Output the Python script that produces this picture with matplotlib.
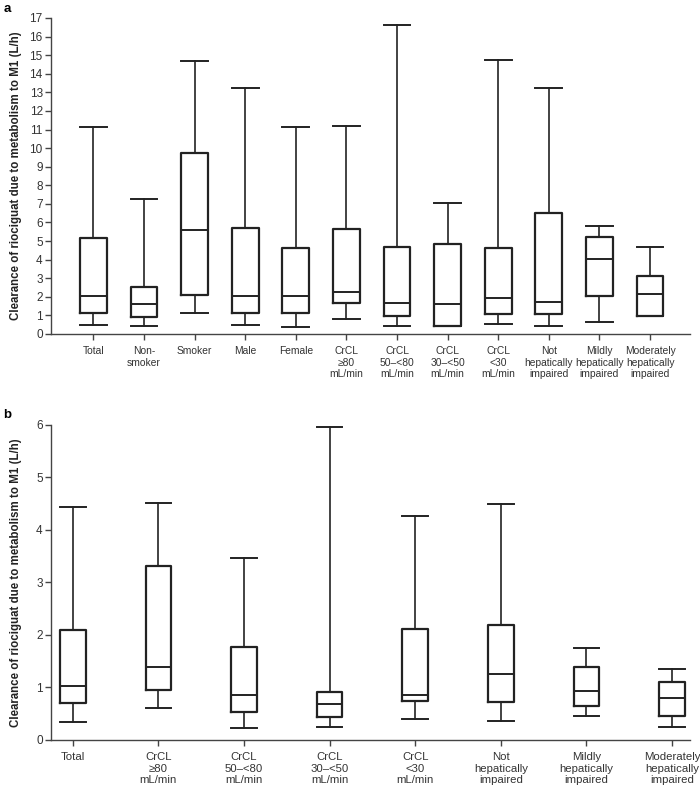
import matplotlib.pyplot as plt

plt.rcParams['font.family'] = ['Liberation Sans', 'DejaVu Sans']

# panel a: groups and five-number summaries (low whisker, Q1, median, Q3, high whisker)
labels_a = ['Total', 'Non-\nsmoker', 'Smoker', 'Male', 'Female', 'CrCL\n≥80\nmL/min',
            'CrCL\n50–<80\nmL/min', 'CrCL\n30–<50\nmL/min', 'CrCL\n<30\nmL/min',
            'Not\nhepatically\nimpaired', 'Mildly\nhepatically\nimpaired',
            'Moderately\nhepatically\nimpaired']
low_a = [0.50, 0.45, 1.15, 0.50, 0.40, 0.79, 0.41, 0.42, 0.55, 0.41, 0.63, 0.95]
q1_a = [1.11, 0.93, 2.10, 1.11, 1.11, 1.65, 0.98, 0.45, 1.09, 1.06, 2.03, 0.98]
med_a = [2.04, 1.63, 5.59, 2.04, 2.04, 2.26, 1.67, 1.63, 1.94, 1.74, 4.03, 2.15]
q3_a = [5.18, 2.55, 9.75, 5.70, 4.63, 5.63, 4.66, 4.86, 4.64, 6.51, 5.20, 3.14]
high_a = [11.15, 7.28, 14.69, 13.23, 11.15, 11.20, 16.62, 7.03, 14.72, 13.23, 5.81, 4.70]

# panel b
labels_b = ['Total', 'CrCL\n≥80\nmL/min', 'CrCL\n50–<80\nmL/min', 'CrCL\n30–<50\nmL/min',
            'CrCL\n<30\nmL/min', 'Not\nhepatically\nimpaired', 'Mildly\nhepatically\nimpaired',
            'Moderately\nhepatically\nimpaired']
low_b = [0.34, 0.60, 0.22, 0.24, 0.39, 0.36, 0.46, 0.24]
q1_b = [0.70, 0.96, 0.54, 0.43, 0.75, 0.73, 0.65, 0.46]
med_b = [1.02, 1.39, 0.86, 0.68, 0.86, 1.26, 0.93, 0.79]
q3_b = [2.09, 3.31, 1.78, 0.92, 2.11, 2.19, 1.39, 1.11]
high_b = [4.43, 4.51, 3.46, 5.96, 4.27, 4.50, 1.76, 1.36]

ylabel = 'Clearance of riociguat due to metabolism to M1 (L/h)'


def draw_boxes(ax, labels, low, q1, med, q3, high, width, xsize):
    stats = []
    for i in range(len(labels)):
        stats.append({'whislo': low[i], 'q1': q1[i], 'med': med[i], 'q3': q3[i],
                      'whishi': high[i], 'fliers': []})
    pos = list(range(1, len(labels) + 1))
    ax.bxp(stats, positions=pos, widths=width, showfliers=False, capwidths=width,
           boxprops=dict(color='#222222', linewidth=1.6),
           medianprops=dict(color='#222222', linewidth=1.4),
           whiskerprops=dict(color='#222222', linewidth=1.2),
           capprops=dict(color='#222222', linewidth=1.4))
    ax.set_xticks(pos)
    ax.set_xticklabels(labels, fontsize=xsize, color='#333333', linespacing=1.13)
    for s in ['top', 'right']:
        ax.spines[s].set_visible(False)
    for s in ['left', 'bottom']:
        ax.spines[s].set_color('#444444')
        ax.spines[s].set_linewidth(1.0)
    ax.tick_params(axis='both', colors='#444444', length=4, width=1.0, labelsize=8.5,
                   labelcolor='#333333', pad=2)
    ax.tick_params(axis='x', labelsize=xsize, pad=5)
    ax.set_ylabel(ylabel, fontsize=8.3, fontweight='bold', color='#222222')
    ax.yaxis.set_label_coords(-0.045, 0.5)


fig = plt.figure(figsize=(7, 7.92), dpi=100)

ax1 = fig.add_axes([0.0729, 0.5783, 0.9129, 0.399])
draw_boxes(ax1, labels_a, low_a, q1_a, med_a, q3_a, high_a, 0.53, 7.4)
ax1.set_ylim(0, 17)
ax1.set_yticks(range(0, 18))
ax1.set_xlim(0.164, 12.79)

ax2 = fig.add_axes([0.0729, 0.0657, 0.9129, 0.3977])
draw_boxes(ax2, labels_b, low_b, q1_b, med_b, q3_b, high_b, 0.30, 8.2)
ax2.set_ylim(0, 6)
ax2.set_yticks(range(0, 7))
ax2.set_xlim(0.746, 8.21)

fig.text(0.005, 0.996, 'a', fontsize=9.5, fontweight='bold', va='top')
fig.text(0.005, 0.484, 'b', fontsize=9.5, fontweight='bold', va='top')

fig.savefig('out.png', dpi=100)
